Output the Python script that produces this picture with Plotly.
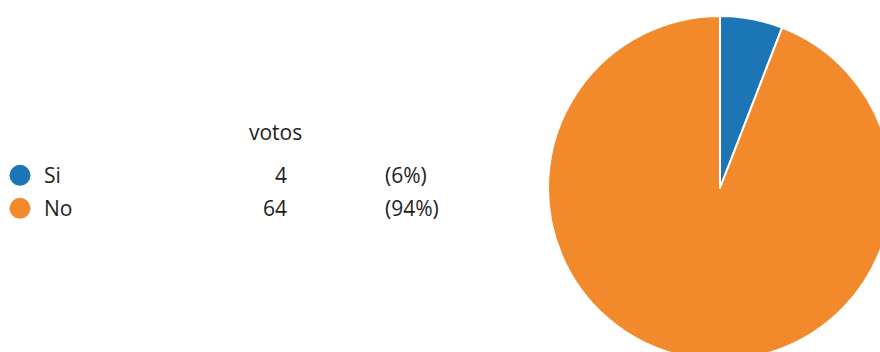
import plotly.graph_objects as go

# Poll results
labels = ["Si", "No"]
votes = [4, 64]
colors = ["#1c76b6", "#f28a2b"]
header = "votos"

total = sum(votes)
counts_txt = [str(v) for v in votes]
pct_txt = [f"({round(v / total * 100)}%)" for v in votes]
rows = list(range(len(labels)))

W, H = 892, 360
FONT = dict(family="Open Sans, Segoe UI, sans-serif", size=21, color="#1e1e1e")

fig = go.Figure()

# Pie, starting at 12 o'clock and going clockwise
fig.add_trace(go.Pie(
    labels=labels, values=votes, sort=False, direction="clockwise", rotation=0,
    marker=dict(colors=colors, line=dict(color="white", width=2)),
    textinfo="none", hoverinfo="label+value+percent", showlegend=False,
    domain=dict(x=[548 / W, 1], y=[0, 344 / H]),
))

# Left-hand table: colour dot, label, vote count, percentage
fig.add_trace(go.Scatter(
    x=[20] * len(rows), y=[r - 0.08 for r in rows], mode="markers",
    marker=dict(color=colors, size=21), hoverinfo="skip", showlegend=False,
))
fig.add_trace(go.Scatter(
    x=[44] * len(rows), y=rows, mode="text", text=labels,
    textposition="middle right", textfont=FONT, hoverinfo="skip", showlegend=False,
))
fig.add_trace(go.Scatter(
    x=[287] * len(rows), y=rows, mode="text", text=counts_txt,
    textposition="middle left", textfont=FONT, hoverinfo="skip", showlegend=False,
))
fig.add_trace(go.Scatter(
    x=[385] * len(rows), y=rows, mode="text", text=pct_txt,
    textposition="middle right", textfont=FONT, hoverinfo="skip", showlegend=False,
))

fig.add_annotation(x=275, y=-1.38, xref="x", yref="y", text=header,
                   showarrow=False, font=FONT, xanchor="center", yanchor="middle")

fig.update_layout(
    width=W, height=H, autosize=False,
    margin=dict(l=0, r=0, t=0, b=0),
    paper_bgcolor="white", plot_bgcolor="white",
    xaxis=dict(domain=[0, 0.6], range=[0, 0.6 * W], visible=False, fixedrange=True),
    yaxis=dict(domain=[0, 1], range=[(H - 178) / 33, -178 / 33], visible=False, fixedrange=True),
)

fig.write_html("out.html")
